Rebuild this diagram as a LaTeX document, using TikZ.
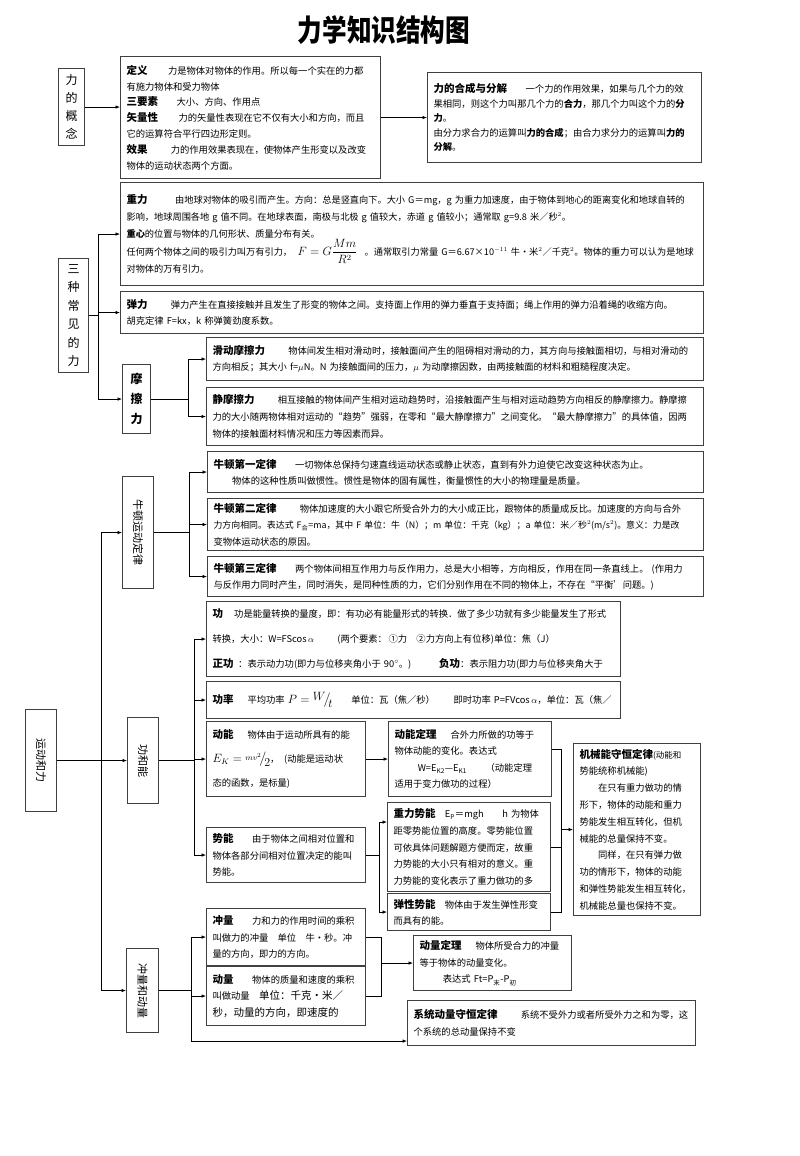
\documentclass[tikz,border=0pt]{standalone}
\usepackage{fontspec}
\usepackage{amsmath}
\usepackage{graphicx}
\setmainfont{Noto Sans CJK SC}
\usetikzlibrary{arrows.meta}
\newcommand\fsz[2]{\fontsize{#1}{#2}\selectfont}
\newcommand\hw[1]{{\fsz{10.5}{12}\bfseries #1}}
\tikzset{
  box/.style={draw=black!75, line width=1.1pt, anchor=north west, align=left, inner xsep=6pt, inner ysep=2pt, font=\fsz{9.3}{16.5}},
  lbl/.style={draw=black!75, line width=1.1pt, anchor=north west, align=center, inner sep=0pt, font=\fsz{12}{18}},
  arr/.style={line width=0.7pt, -{Latex[length=4.5pt,width=3.5pt]}}
}
\begin{document}
\begin{tikzpicture}[x=1pt,y=-1pt]
		\useasboundingbox (0,0) rectangle (800,1156);
		\node (bt) at (384,30) {\fsz{30}{30}\bfseries\scalebox{0.82}[1]{力学知识结构图}};
		
		\node[lbl, minimum width=26pt, minimum height=77pt] (glgn) at (58,68) {力\\的\\概\\念};
		\node[lbl, minimum width=30pt, minimum height=114pt, font=\fsz{12}{18.5}] (szl) at (58,258) {三\\种\\常\\见\\的\\力};
		\node[lbl, minimum width=28pt, minimum height=69pt, font=\fsz{12}{20}\bfseries] (mcl) at (122,364) {摩\\擦\\力};
		\node[lbl, minimum width=31pt, minimum height=112pt, font=\fsz{11}{12}] (nd) at (122,476) {\rotatebox{-90}{牛顿运动定律}};
		\node[lbl, minimum width=31pt, minimum height=102pt, font=\fsz{11}{12}] (ydl) at (25,709) {\rotatebox{-90}{运动和力}};
		\node[lbl, minimum width=31pt, minimum height=86pt, font=\fsz{11}{12}] (gn) at (127,717) {\rotatebox{-90}{功和能}};
		\node[lbl, minimum width=32pt, minimum height=84pt, font=\fsz{11}{12}] (cl) at (126,948) {\rotatebox{-90}{冲量和动量}};
		
		\node[box, text width=248pt, minimum height=122pt, font=\fsz{9.3}{15.8}] (dy) at (120,56) {\hw{定义}\hspace{2.2em}力是物体对物体的作用。所以每一个实在的力都\\有施力物体和受力物体\\\hw{三要素}\hspace{2em}大小、方向、作用点\\\hw{矢量性}\hspace{2.2em}力的矢量性表现在它不仅有大小和方向，而且\\它的运算符合平行四边形定则。\\\hw{效果}\hspace{2.5em}力的作用效果表现在，使物体产生形变以及改变\\物体的运动状态两个方面。};
		\node[box, text width=262pt, minimum height=90pt, font=\fsz{9.3}{14.5}] (hc) at (427,72) {\hw{力的合成与分解}\hspace{2em}一个力的作用效果，如果与几个力的效\\果相同，则这个力叫那几个力的\textbf{合力}，那几个力叫这个力的\textbf{分}\\\textbf{力}。\\由分力求合力的运算叫\textbf{力的合成}；由合力求分力的运算叫\textbf{力的}\\\textbf{分解}。};
		
		\node[box, text width=571pt, minimum height=103pt, font=\fsz{9.2}{17}] (zl) at (120,182) {\hw{重力}\hspace{3em}由地球对物体的吸引而产生。方向：总是竖直向下。大小 G＝mg，g 为重力加速度，由于物体到地心的距离变化和地球自转的\\影响，地球周围各地 g 值不同。在地球表面，南极与北极 g 值较大，赤道 g 值较小；通常取 g=9.8 米／秒$^{2}$。\\\textbf{重心}的位置与物体的几何形状、质量分布有关。\\任何两个物体之间的吸引力叫万有引力，\hspace{0.6em}\mbox{\fsz{12}{12}$F=G\dfrac{Mm}{R^{2}}$}\hspace{0.8em}。通常取引力常量~G＝6.67×10$^{-11}$~牛•米$^{2}$／千克$^{2}$。物体的重力可以认为是地球\\对物体的万有引力。};
		\node[box, text width=571pt, minimum height=42pt] (tl) at (120,291) {\hw{弹力}\hspace{2.5em}弹力产生在直接接触并且发生了形变的物体之间。支持面上作用的弹力垂直于支持面；绳上作用的弹力沿着绳的收缩方向。\\胡克定律 F=kx，k 称弹簧劲度系数。};
		\node[box, text width=485pt, minimum height=43pt] (hd) at (206,337) {\hw{滑动摩擦力}\hspace{2.5em}物体间发生相对滑动时，接触面间产生的阻碍相对滑动的力，其方向与接触面相切，与相对滑动的\\方向相反；其大小 f=$\mu$N。N 为接触面间的压力，$\mu$ 为动摩擦因数，由两接触面的材料和粗糙程度决定。};
		\node[box, text width=485pt, minimum height=58pt, font=\fsz{9.3}{17}] (jm) at (206,387) {\hw{静摩擦力}\hspace{2.5em}相互接触的物体间产生相对运动趋势时，沿接触面产生与相对运动趋势方向相反的静摩擦力。静摩擦\\力的大小随两物体相对运动的“趋势”强弱，在零和“最大静摩擦力”之间变化。“最大静摩擦力”的具体值，因两\\物体的接触面材料情况和压力等因素而异。};
		
		\node[box, text width=484pt, minimum height=41pt, font=\fsz{9.3}{16}] (n1) at (207,451) {\hw{牛顿第一定律}\hspace{2em}一切物体总保持匀速直线运动状态或静止状态，直到有外力迫使它改变这种状态为止。\\\hspace*{2em}物体的这种性质叫做惯性。惯性是物体的固有属性，衡量惯性的大小的物理量是质量。};
		\node[box, text width=484pt, minimum height=52pt] (n2) at (207,498) {\hw{牛顿第二定律}\hspace{2.5em}物体加速度的大小跟它所受合外力的大小成正比，跟物体的质量成反比。加速度的方向与合外\\{\fsz{8.9}{16.5}力方向相同。表达式~F\textsubscript{合}=ma，其中~F~单位：牛（N）；m~单位：千克（kg）；a~单位：米／秒$^{2}$(m/s$^{2}$)。意义：力是改}\\变物体运动状态的原因。};
		\node[box, text width=484pt, minimum height=40pt, font=\fsz{9.3}{16}] (n3) at (207,556) {\hw{牛顿第三定律}\hspace{2em}两个物体间相互作用力与反作用力，总是大小相等，方向相反，作用在同一条直线上。 (作用力\\与反作用力同时产生，同时消失，是同种性质的力，它们分别作用在不同的物体上，不存在“平衡’问题。)};
		
		\node[box, text width=402pt, minimum height=75pt, font=\fsz{9.3}{25}] (gg) at (206,601) {\hw{功}\hspace{1.2em}功是能量转换的量度，即：有功必有能量形式的转换．做了多少功就有多少能量发生了形式\\转换，大小：W=FScos\,$\alpha$\hspace{2.5em}(两个要素：\,①力\quad ②力方向上有位移)单位：焦（J）\\\hw{正功}\hspace{0.5em}：表示动力功(即力与位移夹角小于 90$^{\circ}$。)\hspace{3em}\hw{负功}：表示阻力功(即力与位移夹角大于};
		\node[box, text width=402pt, minimum height=37pt] (gl) at (206,681) {\hw{功率}\hspace{1.5em}平均功率 \mbox{\fsz{12}{12}$P=\raisebox{0.5ex}{$W$}\!\big/\!\raisebox{-0.6ex}{$t$}$}\hspace{2em}单位：瓦（焦／秒）\hspace{2em}即时功率 P=FVcos\,$\alpha$，单位：瓦（焦／};
		\node[box, text width=147pt, minimum height=75pt, font=\fsz{9.3}{24}] (dn) at (206,721) {\hw{动能}\hspace{1.5em}物体由于运动所具有的能\\\mbox{\fsz{12}{12}$E_{K}=\raisebox{0.3ex}{$\scriptstyle mv^{2}$}\!\big/\!\raisebox{-0.6ex}{$2$}$}，\hspace{0.5em}(动能是运动状\\态的函数，是标量)};
		\node[box, text width=151pt, minimum height=75pt] (dd) at (388,721) {\hw{动能定理}\hspace{1.5em}合外力所做的功等于\\物体动能的变化。表达式\\\hspace*{2.5em}W=E\textsubscript{K2}—E\textsubscript{K1}\hspace{2em}（动能定理\\适用于变力做功的过程）};
		\node[box, text width=115pt, minimum height=172pt, font=\fsz{9.3}{16.8}] (jx) at (573,743) {\hw{机械能守恒定律}{\fsz{8.5}{10}(动能和}\\势能统称机械能)\\\hspace*{2em}在只有重力做功的情\\形下，物体的动能和重力\\势能发生相互转化，但机\\械能的总量保持不变。\\\hspace*{2em}同样，在只有弹力做\\功的情形下，物体的动能\\和弹性势能发生相互转化，\\机械能总量也保持不变。};
		\node[box, text width=147pt, minimum height=55pt] (sn) at (206,827) {\hw{势能}\hspace{2em}由于物体之间相对位置和\\物体各部分间相对位置决定的能叫\\势能。};
		\node[box, text width=151pt, minimum height=89pt, font=\fsz{9.3}{16.8}] (zs) at (387,802) {\hw{重力势能}\hspace{1em}E\textsubscript{P}＝mgh\hspace{2em}h 为物体\\距零势能位置的高度。零势能位置\\可依具体问题解题方便而定，故重\\力势能的大小只有相对的意义。重\\力势能的变化表示了重力做功的多};
		\node[box, text width=151pt, minimum height=37pt, font=\fsz{9.3}{16}] (ts) at (387,893) {\hw{弹性势能}\hspace{1em}物体由于发生弹性形变\\而具有的能。};
		
		\node[box, text width=147pt, minimum height=57pt] (cq) at (206,908) {\hw{冲量}\hspace{2em}力和力的作用时间的乘积\\叫做力的冲量\hspace{1em}单位\hspace{1em}牛•秒。冲\\量的方向，即力的方向。};
		\node[box, text width=147pt, minimum height=59pt] (dl) at (206,966) {\hw{动量}\hspace{2em}物体的质量和速度的乘积\\叫做动量\hspace{1em}{\fsz{10.5}{12}单位：千克•米／}\\{\fsz{10.5}{12}秒，动量的方向，即速度的}};
		\node[box, text width=146pt, minimum height=55pt] (dt) at (413,935) {\hw{动量定理}\hspace{1.5em}物体所受合力的冲量\\等于物体的动量变化。\\\hspace*{2.5em}表达式 Ft=P\textsubscript{末}-P\textsubscript{初}};
		\node[box, text width=276pt, minimum height=45pt] (xt) at (407,1000) {\hw{系统动量守恒定律}\hspace{2.5em}系统不受外力或者所受外力之和为零，这\\个系统的总动量保持不变};
		
		\draw[arr] (glgn.east) -- (glgn.east -| dy.west);
		\draw[arr] (dy.east) -- (hc.west);
		\draw[arr] (szl.east) -- ++(9,0) |- (zl.west);
		\draw[arr] (szl.east) -- ++(9,0) |- (tl.west);
		\draw[arr] (szl.east) -- ++(9,0) |- (mcl.west);
		\draw[arr] (mcl.east) -- ++(37,0) |- (hd.west);
		\draw[arr] (mcl.east) -- ++(37,0) |- (jm.west);
		
		\draw[arr] (ydl.east) -- ++(44,0) |- (nd.west);
		\draw[arr] (ydl.east) -- ++(44,0) |- (gn.west);
		\draw[arr] (ydl.east) -- ++(44,0) |- (cl.west);
		\draw[arr] (nd.east) -- ++(35,0) |- (n1.west);
		\draw[arr] (nd.east) -- ++(35,0) |- (n2.west);
		\draw[arr] (nd.east) -- ++(35,0) |- (n3.west);
		
		\draw[arr] (gn.east) -- ++(35,0) |- (gg.west);
		\draw[arr] (gn.east) -- ++(35,0) |- (gl.west);
		\draw[arr] (gn.east) -- ++(35,0) |- (dn.west);
		\draw[arr] (gn.east) -- ++(35,0) |- (sn.west);
		\draw[arr] (dn.east) -- (dd.west);
		\draw[arr] (sn.east) -- ++(13,0) |- ([yshift=25pt]zs.west);
		\draw[arr] (sn.east) -- ++(13,0) |- (ts.west);
		\coordinate (jb) at ([xshift=10pt]ts.east);
		\draw ([yshift=10pt]dd.east) -| (jb) -- (ts.east);
		\draw (zs.east) -- (zs.east -| jb);
		\draw[arr] (jb |- jx.west) -- (jx.west);
		
		\draw[arr] (cl.east) -- ++(32,0) |- (cq.west);
		\draw[arr] (cl.east) -- ++(32,0) |- (dl.west);
		\draw[arr] (cl.east) -- ++(32,0) |- ([yshift=-18pt]xt.west);
		\coordinate (db) at ([xshift=15pt]cq.east);
		\draw (cq.east) -- (db) |- (dl.east);
		\draw[arr] (db |- dt.west) -- (dt.west);
\end{tikzpicture}
\end{document}
